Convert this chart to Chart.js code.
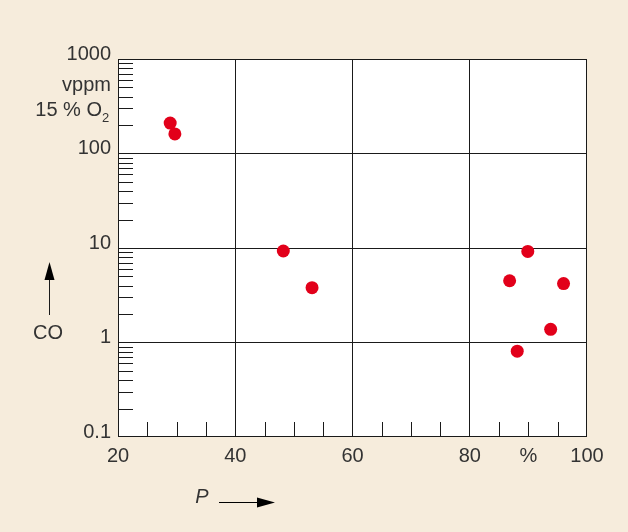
<!DOCTYPE html>
<html><head><meta charset="utf-8">
<script src="https://cdn.jsdelivr.net/npm/chart.js@4/dist/chart.umd.min.js"></script>
<style>html,body{margin:0;padding:0;background:#f6ecdc;}#wrap{width:628px;height:532px;}</style>
</head><body><div id="wrap"><canvas id="c" width="628" height="532"></canvas></div>
<script>
const pressureValues = [28.9, 29.7, 48.2, 53.1, 89.9, 86.8, 96.0, 93.8, 88.1];
const coValues = [210, 161, 9.3, 3.8, 9.2, 4.5, 4.2, 1.38, 0.81];
const xTickValues = [20, 40, 60, 80, 90, 100];
const xTickLabels = ['20', '40', '60', '80', '%', '100'];
const xGridValues = [40, 60, 80];
const xMinorValues = [25, 30, 35, 45, 50, 55, 65, 70, 75, 85, 90, 95];
const yTickValues = [0.1, 1, 10, 100, 1000];
const yTickLabels = ['0.1', '1', '10', '100', '1000'];
const yGridValues = [1, 10, 100];
const yMinorFactors = [2, 3, 4, 5, 6, 7, 8, 9];
const yUnitLines = ['vppm', '15 % O'];

const FONT = '"Liberation Sans", Arial, sans-serif';
const TXT = '#333';
const LINE = '#1a1a1a';

const decor = {
  id: 'decor',
  beforeDraw(chart) {
    const c = chart.ctx, a = chart.chartArea;
    c.save();
    c.fillStyle = '#f6ecdc';
    c.fillRect(0, 0, chart.width, chart.height);
    c.fillStyle = '#ffffff';
    c.fillRect(a.left, a.top, a.right - a.left, a.bottom - a.top);
    c.restore();
  },
  afterDraw(chart) {
    const c = chart.ctx, a = chart.chartArea;
    const xs = chart.scales.x, ys = chart.scales.y;
    c.save();
    c.strokeStyle = LINE; c.lineWidth = 1;
    // minor ticks
    c.beginPath();
    xMinorValues.forEach(v => {
      const px = Math.round(xs.getPixelForValue(v)) + 0.5;
      c.moveTo(px, a.bottom); c.lineTo(px, a.bottom - 15);
    });
    for (let d = -1; d < 3; d++) {
      yMinorFactors.forEach(f => {
        const py = Math.round(ys.getPixelForValue(f * Math.pow(10, d))) + 0.5;
        c.moveTo(a.left, py); c.lineTo(a.left + 15, py);
      });
    }
    c.stroke();
    // frame
    c.strokeRect(Math.round(a.left) + 0.5, Math.round(a.top) + 0.5, Math.round(a.right - a.left) - 1, Math.round(a.bottom - a.top) - 1);
    // unit labels
    c.fillStyle = TXT;
    c.font = '20px ' + FONT;
    c.textAlign = 'right'; c.textBaseline = 'middle';
    c.fillText(yUnitLines[0], 111, 85);
    c.fillText(yUnitLines[1], 102, 110);
    c.font = '13px ' + FONT;
    c.textAlign = 'left';
    c.fillText('2', 102, 118);
    // CO label and arrow
    c.font = '20px ' + FONT;
    c.textAlign = 'center';
    c.fillText('CO', 48, 333);
    c.beginPath(); c.moveTo(49.5, 315); c.lineTo(49.5, 275); c.stroke();
    c.fillStyle = '#000';
    c.beginPath(); c.moveTo(49.5, 262); c.lineTo(54.5, 280); c.lineTo(44.5, 280); c.closePath(); c.fill();
    // P label and arrow
    c.fillStyle = TXT;
    c.font = 'italic 20px ' + FONT;
    c.fillText('P', 202, 497);
    c.strokeStyle = '#000';
    c.beginPath(); c.moveTo(219, 502.5); c.lineTo(262, 502.5); c.stroke();
    c.fillStyle = '#000';
    c.beginPath(); c.moveTo(275, 502.5); c.lineTo(257, 497.5); c.lineTo(257, 507.5); c.closePath(); c.fill();
    c.restore();
  }
};

new Chart(document.getElementById('c'), {
  type: 'scatter',
  data: {
    datasets: [{
      data: pressureValues.map((x, i) => ({ x: x, y: coValues[i] })),
      backgroundColor: '#e2001a',
      borderColor: '#e2001a',
      pointRadius: 6.5,
      pointHoverRadius: 6.5,
      borderWidth: 0
    }]
  },
  options: {
    responsive: false,
    animation: false,
    devicePixelRatio: 1,
    layout: { padding: { left: 0, top: 59, right: 41, bottom: 0 } },
    plugins: { legend: { display: false }, tooltip: { enabled: false } },
    scales: {
      x: {
        type: 'linear', min: 20, max: 100,
        afterFit(s) { s.height = 95; },
        afterBuildTicks(s) { s.ticks = xTickValues.map(v => ({ value: v })); },
        ticks: {
          autoSkip: false, maxRotation: 0, padding: 7,
          color: TXT, font: { family: FONT, size: 20 },
          callback(v) { const i = xTickValues.indexOf(v); return i >= 0 ? xTickLabels[i] : ''; }
        },
        grid: {
          drawTicks: false,
          color(ctx) { return ctx.tick && xGridValues.includes(ctx.tick.value) ? LINE : 'rgba(0,0,0,0)'; },
          lineWidth: 1
        },
        border: { display: false }
      },
      y: {
        type: 'logarithmic', min: 0.1, max: 1000,
        afterFit(s) { s.width = 118; },
        afterBuildTicks(s) { s.ticks = yTickValues.map(v => ({ value: v })); },
        ticks: {
          autoSkip: false, padding: 7, labelOffset: -5,
          color: TXT, font: { family: FONT, size: 20 },
          callback(v) { const i = yTickValues.indexOf(v); return i >= 0 ? yTickLabels[i] : ''; }
        },
        grid: {
          drawTicks: false,
          color(ctx) { return ctx.tick && yGridValues.includes(ctx.tick.value) ? LINE : 'rgba(0,0,0,0)'; },
          lineWidth: 1
        },
        border: { display: false }
      }
    }
  },
  plugins: [decor]
});
</script>
</body></html>
